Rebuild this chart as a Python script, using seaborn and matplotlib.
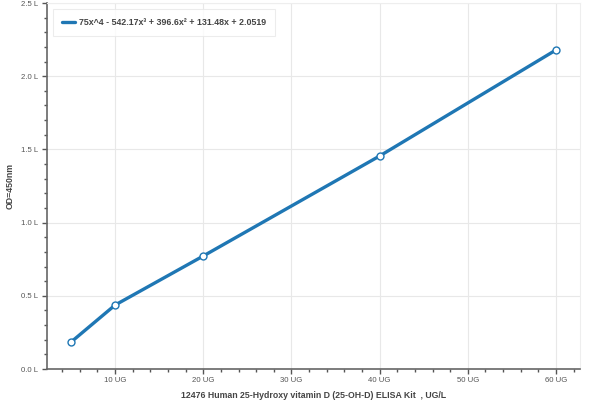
import numpy as np
import pandas as pd
import matplotlib
matplotlib.use("Agg")
import matplotlib.pyplot as plt
from matplotlib.ticker import MultipleLocator, FuncFormatter
import seaborn as sns

# standard curve points
conc = [5, 10, 20, 40, 60]
od = [0.184, 0.437, 0.772, 1.455, 2.179]
fit_label = "75x^4 - 542.17x³ + 396.6x² + 131.48x + 2.0519"

x_label = "12476 Human 25-Hydroxy vitamin D (25-OH-D) ELISA Kit  , UG/L"
y_label = "OD=450nm"

sns.set_style("white")
plt.rcParams["font.family"] = ["Liberation Sans", "DejaVu Sans"]

df = pd.DataFrame({"conc": conc, "od": od})

fig = plt.figure(figsize=(6, 4), dpi=100)
ax = fig.add_axes([0.078, 0.0775, 0.889, 0.915])

sns.lineplot(data=df, x="conc", y="od", ax=ax, color="#1f77b4", linewidth=2.4,
             label=fit_label, zorder=3)
ax.plot(df["conc"], df["od"], linestyle="none", marker="o", markersize=5,
        markerfacecolor="white", markeredgecolor="#1f77b4", markeredgewidth=1,
        zorder=4)

ax.set_xlim(2.25, 62.75)
ax.set_ylim(0, 2.5)
ax.xaxis.set_major_locator(MultipleLocator(10))
ax.xaxis.set_minor_locator(MultipleLocator(2))
ax.yaxis.set_major_locator(MultipleLocator(0.5))
ax.yaxis.set_minor_locator(MultipleLocator(0.1))
ax.xaxis.set_major_formatter(FuncFormatter(lambda v, p: f"{v:.0f} UG" if v > 0 else ""))
ax.yaxis.set_major_formatter(FuncFormatter(lambda v, p: f"{v:.1f} L"))

ax.grid(True, which="major", color="#e8e8e8", linewidth=0.8)
ax.tick_params(which="major", direction="out", length=3.5, width=1, color="#555555",
               labelsize=5.6, labelcolor="#555555", pad=2, bottom=True, left=True)
ax.tick_params(which="minor", direction="out", length=2.2, width=1, color="#555555",
               bottom=True, left=True)
ax.tick_params(axis="y", which="major", pad=2.8)

for s in ["left", "bottom"]:
    ax.spines[s].set_color("#666666")
    ax.spines[s].set_linewidth(1.2)
for s in ["top", "right"]:
    ax.spines[s].set_color("#eeeeee")
    ax.spines[s].set_linewidth(0.8)

ax.set_xlabel(x_label, fontsize=6.3, fontweight="bold", color="#444444")
ax.set_ylabel(y_label, fontsize=6.3, fontweight="bold", color="#444444")
ax.xaxis.set_label_coords(0.5, -0.059)
ax.yaxis.set_label_coords(-0.060, 0.5)

leg = ax.legend(loc="upper left", bbox_to_anchor=(0.0118, 0.9836), frameon=True,
                fancybox=False, fontsize=6.4, handlelength=1.5, handletextpad=0.4,
                borderpad=1.0, borderaxespad=0)
leg.get_frame().set_edgecolor("#e8e8e8")
leg.get_frame().set_linewidth(0.8)
for t in leg.get_texts():
    t.set_fontweight("bold")
    t.set_color("#444444")

fig.savefig("out.png", dpi=100)
